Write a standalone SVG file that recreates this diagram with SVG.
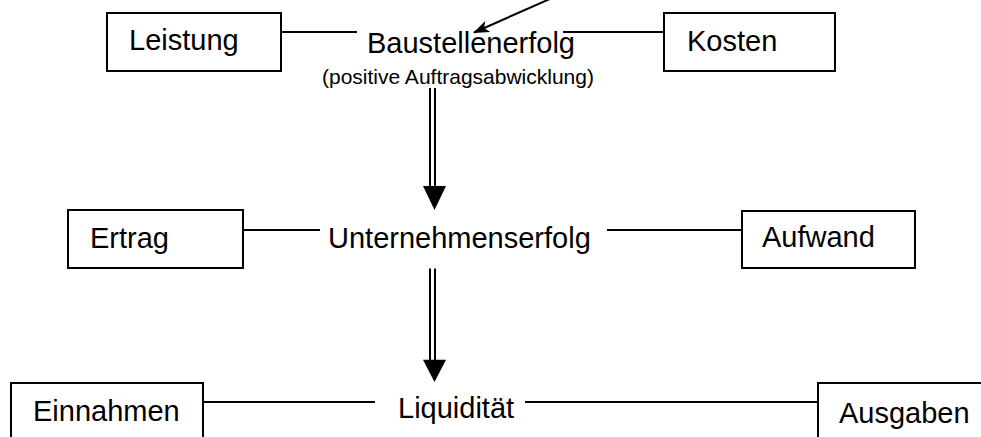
<svg xmlns="http://www.w3.org/2000/svg" xmlns:xlink="http://www.w3.org/1999/xlink" width="981" height="437" viewBox="0 0 981 437">
  <style>
    .box { fill: #ffffff; stroke: #000000; stroke-width: 2; }
    .lbl { font-family: "Liberation Sans", Arial, sans-serif; font-size: 29px; fill: #000000; }
    .sub { font-family: "Liberation Sans", Arial, sans-serif; font-size: 21px; fill: #000000; }
    .link { stroke: #000000; stroke-width: 2; fill: none; }
  </style>
  <defs>
    <marker id="tip" viewBox="0 0 16 12" refX="15" refY="6" markerWidth="16" markerHeight="12" markerUnits="userSpaceOnUse" orient="auto">
      <path d="M0,0 L16,6 L0,12 L4,6 Z" fill="#000000"/>
    </marker>
    <!-- double-shafted downward arrow, tip at (0,0) -->
    <g id="dblArrow">
      <line x1="-4.5" y1="-122" x2="-4.5" y2="-20" stroke="#000000" stroke-width="2"/>
      <line x1="0.5" y1="-122" x2="0.5" y2="-20" stroke="#000000" stroke-width="2"/>
      <polygon points="-11.5,-24 11.5,-24 0,0" fill="#000000"/>
    </g>
  </defs>

  <rect width="981" height="437" fill="#ffffff"/>

  <!-- connectors -->
  <g id="connectors">
    <line class="link" x1="281" y1="32" x2="357" y2="32"/>
    <line class="link" x1="563" y1="32" x2="664" y2="32"/>
    <line class="link" x1="552" y1="-2" x2="474" y2="32.5" marker-end="url(#tip)"/>
    <use xlink:href="#dblArrow" transform="translate(434.5,210)"/>
    <line class="link" x1="243" y1="230" x2="320" y2="230"/>
    <line class="link" x1="607" y1="230" x2="742" y2="230"/>
    <use xlink:href="#dblArrow" transform="translate(434.5,382) scale(1,0.93)"/>
    <line class="link" x1="203" y1="402" x2="375" y2="402"/>
    <line class="link" x1="525" y1="402" x2="818" y2="402"/>
  </g>

  <!-- level 1 -->
  <g id="leistung">
    <rect class="box" x="107" y="13" width="174" height="58"/>
    <text class="lbl" x="129" y="50">Leistung</text>
  </g>
  <g id="baustellenerfolg">
    <text class="lbl" x="367" y="53">Baustellenerfolg</text>
    <text class="sub" x="322" y="84">(positive Auftragsabwicklung)</text>
  </g>
  <g id="kosten">
    <rect class="box" x="664" y="13" width="171" height="58"/>
    <text class="lbl" x="687" y="51">Kosten</text>
  </g>

  <!-- level 2 -->
  <g id="ertrag">
    <rect class="box" x="68" y="210" width="175" height="58"/>
    <text class="lbl" x="90" y="248">Ertrag</text>
  </g>
  <g id="unternehmenserfolg">
    <text class="lbl" x="328" y="248">Unternehmenserfolg</text>
  </g>
  <g id="aufwand">
    <rect class="box" x="742" y="211" width="173" height="57"/>
    <text class="lbl" x="762" y="247">Aufwand</text>
  </g>

  <!-- level 3 -->
  <g id="einnahmen">
    <rect class="box" x="11" y="383" width="192" height="70"/>
    <text class="lbl" x="33" y="421">Einnahmen</text>
  </g>
  <g id="liquiditaet">
    <text class="lbl" x="398" y="418">Liquidität</text>
  </g>
  <g id="ausgaben">
    <rect class="box" x="818" y="383" width="180" height="70"/>
    <text class="lbl" x="839" y="423">Ausgaben</text>
  </g>
</svg>
